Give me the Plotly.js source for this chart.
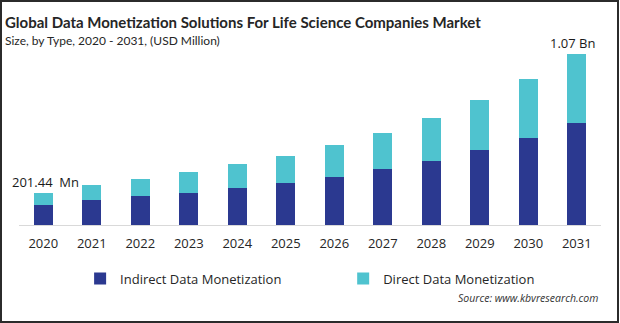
<!DOCTYPE html>
<html>
<head>
<meta charset="utf-8">
<script src="https://cdn.plot.ly/plotly-3.0.1.min.js"></script>
<style>
html,body{margin:0;padding:0;background:#fff;}
#wrap{position:relative;width:620px;height:323px;}
#chart{width:620px;height:323px;}
#frame{position:absolute;left:0;top:0;width:619px;height:323px;box-sizing:border-box;border:2px solid #2b2b2b;pointer-events:none;}
</style>
</head>
<body>
<div id="wrap"><div id="chart"></div><div id="frame"></div></div>
<script>
const years = ['2020','2021','2022','2023','2024','2025','2026','2027','2028','2029','2030','2031'];
const indirect = [125, 157, 182, 201, 232, 263, 301, 351, 401, 470, 545, 640];
const direct = [76.44, 94, 106, 131, 150, 170, 201, 226, 270, 314, 370, 430];
const seriesNames = ['Indirect Data Monetization', 'Direct Data Monetization'];
const seriesColors = ['#2b3990', '#4fc3cf'];
const firstLabel = '201.44  Mn';
const lastLabel = '1.07 Bn';

const totals = years.map((y, i) => indirect[i] + direct[i]);
const lastIdx = years.length - 1;

const traces = [
  {type:'bar', x: years, y: indirect, name: seriesNames[0], marker:{color: seriesColors[0]}, hoverinfo:'skip', legend:'legend'},
  {type:'bar', x: years, y: direct, name: seriesNames[1], marker:{color: seriesColors[1]}, hoverinfo:'skip', legend:'legend2'}
];

const legendFont = {family: 'Open Sans, sans-serif', size: 13, color: '#262626'};

const layout = {
  width: 620, height: 323,
  margin: {l: 19, r: 19, t: 40, b: 98},
  paper_bgcolor: '#fff', plot_bgcolor: '#fff',
  barmode: 'stack', bargap: 0.6,
  font: {family: 'Open Sans, sans-serif', color: '#262626'},
  showlegend: true,
  legend: {
    orientation: 'h', x: 0.105, xanchor: 'left', y: -0.29, yanchor: 'middle',
    font: legendFont, itemclick: false, bgcolor: 'rgba(0,0,0,0)'
  },
  legend2: {
    orientation: 'h', x: 0.557, xanchor: 'left', y: -0.29, yanchor: 'middle',
    font: legendFont, itemclick: false, bgcolor: 'rgba(0,0,0,0)'
  },
  xaxis: {
    type: 'category', range: [-0.5, 11.5], showgrid: false, zeroline: false,
    showline: true, linecolor: '#d9d9d9', linewidth: 1, ticks: '',
    tickfont: {family: 'Open Sans, sans-serif', size: 13, color: '#262626'},
    ticklabelstandoff: 6, fixedrange: true
  },
  yaxis: {
    range: [0, 1160], visible: false, showgrid: false, zeroline: false, fixedrange: true
  },
  annotations: [
    {xref:'paper', yref:'paper', x: -0.028, y: 1.095, xanchor:'left', yanchor:'middle', showarrow:false,
     text: '<b>Global Data Monetization Solutions For Life Science Companies Market</b>',
     font:{family:'Lato, sans-serif', size:15, color:'#262626'}},
    {xref:'paper', yref:'paper', x: -0.028, y: 1.0, xanchor:'left', yanchor:'middle', showarrow:false,
     text: 'Size, by Type, 2020 - 2031, (USD Million)',
     font:{family:'Lato, sans-serif', size:12, color:'#262626'}},
    {xref:'x', yref:'y', x: 0, y: totals[0], xanchor:'center', yanchor:'bottom', showarrow:false,
     xshift: 2, yshift: 0, text: firstLabel,
     font:{family:'Open Sans, sans-serif', size:13, color:'#1a1a1a'}},
    {xref:'x', yref:'y', x: lastIdx, y: totals[lastIdx], xanchor:'center', yanchor:'bottom', showarrow:false,
     xshift: -4, yshift: 0, text: lastLabel,
     font:{family:'Open Sans, sans-serif', size:13, color:'#1a1a1a'}},
    {xref:'paper', yref:'paper', x: 0.9983, y: -0.395, xanchor:'right', yanchor:'middle', showarrow:false,
     text: '<i>Source: www.kbvresearch.com</i>',
     font:{family:'Open Sans, sans-serif', size:10.5, color:'#333'}}
  ]
};

Plotly.newPlot('chart', traces, layout, {displayModeBar:false, staticPlot:true});
</script>
</body>
</html>
